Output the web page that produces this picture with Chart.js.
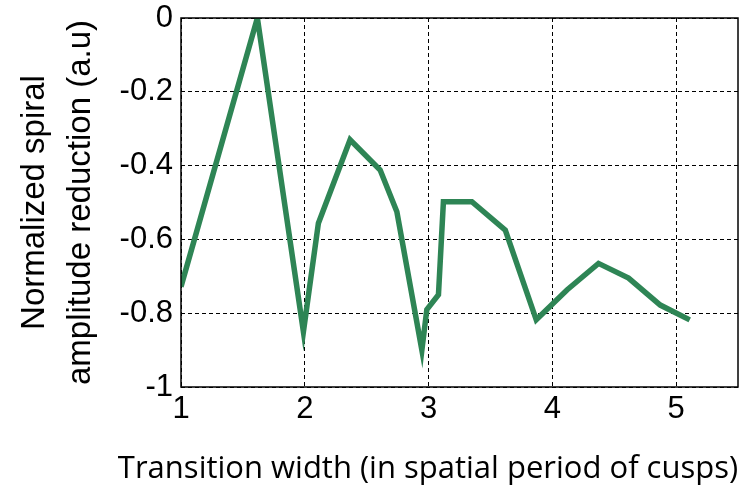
<!DOCTYPE html>
<html>
<head>
<meta charset="utf-8">
<script src="https://cdn.jsdelivr.net/npm/chart.js@4.4.1/dist/chart.umd.min.js"></script>
<style>
  html, body { margin: 0; padding: 0; background: #fff; }
  #wrap { width: 753px; height: 490px; }
</style>
</head>
<body>
<div id="wrap"><canvas id="plot"></canvas></div>
<script>
// values
const widths = [1.0, 1.617, 1.989, 2.11, 2.366, 2.609, 2.744, 2.946, 2.986, 3.08, 3.12, 3.35, 3.62, 3.87, 4.118, 4.373, 4.616, 4.872, 5.11];
const reduction = [-0.728, 0, -0.85, -0.556, -0.33, -0.412, -0.525, -0.9, -0.79, -0.75, -0.498, -0.498, -0.575, -0.818, -0.737, -0.665, -0.705, -0.778, -0.818];
const xTicks = [1, 2, 3, 4, 5];
const yTicks = [0, -0.2, -0.4, -0.6, -0.8, -1];
const xTitle = 'Transition width (in spatial period of cusps)';
const yTitle = ['Normalized spiral', 'amplitude reduction (a.u)'];

const lineColor = '#2e8555';

// box around the plot plus the x title (matlab style)
const frame = {
    id: 'frame',
    afterDraw(c) {
        const a = c.chartArea, ctx = c.ctx;
        ctx.save();
        ctx.strokeStyle = '#000';
        ctx.lineWidth = 1.5;
        ctx.strokeRect(a.left, a.top, a.right - a.left, a.bottom - a.top);
        ctx.fillStyle = '#000';
        ctx.font = '31px "Open Sans"';
        ctx.textAlign = 'center';
        ctx.textBaseline = 'alphabetic';
        ctx.fillText(xTitle, 428, 478);
        ctx.restore();
    }
};

const ctx = document.getElementById('plot').getContext('2d');
new Chart(ctx, {
    type: 'scatter',
    data: {
        datasets: [{
            data: widths.map((x, i) => ({ x: x, y: reduction[i] })),
            showLine: true,
            borderColor: lineColor,
            backgroundColor: lineColor,
            borderWidth: 5.5,
            pointRadius: 0,
            tension: 0
        }]
    },
    options: {
        responsive: true,
        maintainAspectRatio: false,
        animation: false,
        layout: { padding: { top: 18, right: 15, left: 0, bottom: 0 } },
        plugins: { legend: { display: false }, tooltip: { enabled: false } },
        scales: {
            x: {
                type: 'linear',
                min: 1, max: 5.5,
                afterBuildTicks: s => { s.ticks = xTicks.map(v => ({ value: v })); },
                afterFit: s => { s.height = 103; s.paddingLeft = 0; s.paddingRight = 0; },
                grid: { color: '#000', lineWidth: 1, drawTicks: false },
                border: { display: false, dash: [4, 3] },
                ticks: { color: '#000', padding: 4, callback: v => String(v), font: { family: 'Liberation Sans', size: 31 } }
            },
            y: {
                min: -1, max: 0,
                afterBuildTicks: s => { s.ticks = yTicks.map(v => ({ value: v })); },
                afterFit: s => { s.width = 181; s.paddingTop = 0; s.paddingBottom = 0; },
                grid: { color: '#000', lineWidth: 1, drawTicks: false },
                border: { display: false, dash: [4, 3] },
                ticks: { color: '#000', padding: 8, callback: v => String(v), font: { family: 'Liberation Sans', size: 31 } },
                title: {
                    display: true,
                    text: yTitle,
                    color: '#000',
                    padding: { top: 11, bottom: 0 },
                    font: { family: 'Liberation Sans', size: 33, lineHeight: 1.42 }
                }
            }
        }
    },
    plugins: [frame]
});
</script>
</body>
</html>
